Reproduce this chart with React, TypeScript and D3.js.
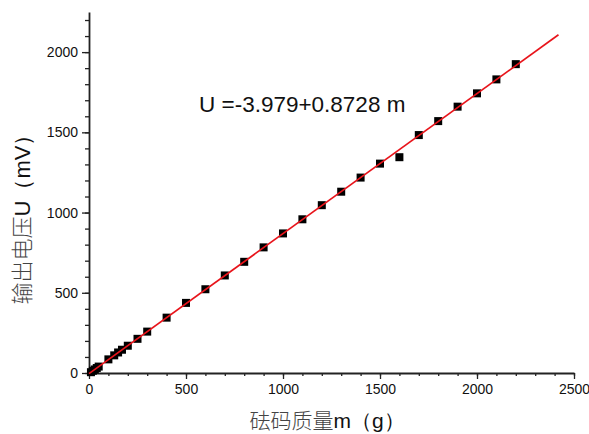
import { useEffect, useRef } from "react";
import * as d3 from "d3";

// mass (g) and measured output voltage (mV)
const masses = [10, 20, 30, 40, 50, 100, 130, 150, 170, 200, 250, 300, 400, 500, 600, 700, 800, 900, 1000, 1100, 1200, 1300, 1400, 1500, 1600, 1700, 1800, 1900, 2000, 2100, 2200];
const voltages = [5, 14, 22, 31, 40, 85, 110, 128, 145, 170, 213, 258, 345, 437, 522, 608, 693, 783, 870, 958, 1046, 1130, 1218, 1305, 1345, 1483, 1570, 1660, 1743, 1830, 1925];

const fitIntercept = -3.979;
const fitSlope = 0.8728;
const fitRange = [0, 2420];

const xMajorTicks = [0, 500, 1000, 1500, 2000, 2500];
const yMajorTicks = [0, 500, 1000, 1500, 2000];

const W = 589;
const H = 434;

export default function App() {
  const svgRef = useRef<SVGSVGElement>(null);

  useEffect(() => {
    const svg = d3.select(svgRef.current);
    svg.selectAll("*").remove();

    const x = d3.scaleLinear().domain([0, 2500]).range([89, 574]);
    const y = d3.scaleLinear().domain([0, 2250]).range([373, 12]);

    const font = "'Liberation Sans', Arial, sans-serif";

    // minor ticks
    svg.append("g")
      .attr("transform", `translate(0,${y(0)})`)
      .call(d3.axisBottom(x).tickValues(d3.range(0, 2501, 100)).tickSize(3).tickSizeOuter(0).tickFormat(() => ""))
      .call(g => g.select(".domain").remove())
      .call(g => g.selectAll("line").attr("stroke", "#222").attr("stroke-width", 1.3));
    svg.append("g")
      .attr("transform", `translate(${x(0)},0)`)
      .call(d3.axisLeft(y).tickValues(d3.range(0, 2201, 100)).tickSize(4).tickSizeOuter(0).tickFormat(() => ""))
      .call(g => g.select(".domain").remove())
      .call(g => g.selectAll("line").attr("stroke", "#222").attr("stroke-width", 1.3));

    // major ticks + labels
    svg.append("g")
      .attr("transform", `translate(0,${y(0)})`)
      .call(d3.axisBottom(x).tickValues(xMajorTicks).tickSize(6).tickSizeOuter(0).tickPadding(5).tickFormat(d3.format("d")))
      .call(g => g.select(".domain").attr("stroke", "#222").attr("stroke-width", 1.8))
      .call(g => g.selectAll("line").attr("stroke", "#222").attr("stroke-width", 1.3))
      .call(g => g.selectAll("text").attr("font-family", font).attr("font-size", 14).attr("fill", "#111"));
    svg.append("g")
      .attr("transform", `translate(${x(0)},0)`)
      .call(d3.axisLeft(y).tickValues(yMajorTicks).tickSize(7).tickSizeOuter(0).tickPadding(4).tickFormat(d3.format("d")))
      .call(g => g.select(".domain").attr("stroke", "#222").attr("stroke-width", 1.8))
      .call(g => g.selectAll("line").attr("stroke", "#222").attr("stroke-width", 1.3))
      .call(g => g.selectAll("text").attr("font-family", font).attr("font-size", 14).attr("fill", "#111"));

    // data points
    const pts = masses.map((m, i) => [m, voltages[i]]);
    svg.append("g")
      .selectAll("rect")
      .data(pts)
      .join("rect")
      .attr("x", d => x(d[0]) - 4)
      .attr("y", d => y(d[1]) - 4)
      .attr("width", 8)
      .attr("height", 8)
      .attr("fill", "#000");

    // linear fit
    const line = d3.line<number>()
      .x(m => x(m))
      .y(m => y(fitIntercept + fitSlope * m));
    svg.append("path")
      .attr("d", line(fitRange))
      .attr("fill", "none")
      .attr("stroke", "#e8141b")
      .attr("stroke-width", 1.7);

    // equation
    svg.append("text")
      .attr("x", 199)
      .attr("y", 112)
      .attr("font-family", font)
      .attr("font-size", 22.5)
      .attr("fill", "#111")
      .text(`U =${fitIntercept}+${fitSlope} m`);

    // axis titles
    const xt = svg.append("text")
      .attr("x", 327)
      .attr("y", 428)
      .attr("text-anchor", "middle")
      .attr("font-size", 21);
    xt.append("tspan").attr("font-family", "'Noto Sans CJK SC', sans-serif").attr("fill", "#444").attr("font-weight", 300).text("砝码质量");
    xt.append("tspan").attr("font-family", font).attr("fill", "#111").text("m（g）");

    const yt = svg.append("text")
      .attr("transform", `translate(30,214) rotate(-90)`)
      .attr("text-anchor", "middle")
      .attr("font-size", 22);
    yt.append("tspan").attr("font-family", "'Noto Sans CJK SC', sans-serif").attr("fill", "#444").attr("font-weight", 300).text("输出电压");
    yt.append("tspan").attr("font-family", font).attr("fill", "#111").text("U（mV）");
  }, []);

  return (
    <svg
      ref={svgRef}
      width={W}
      height={H}
      style={{ position: "absolute", left: 0, top: 0, background: "#fff" }}
    />
  );
}
